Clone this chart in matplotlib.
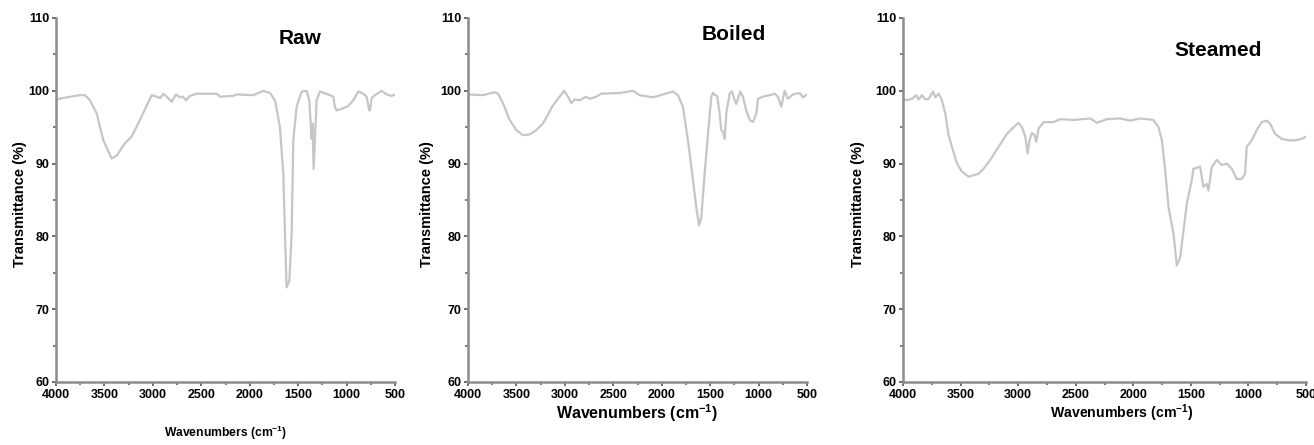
import matplotlib
matplotlib.use("Agg")
import matplotlib.pyplot as plt
from matplotlib.ticker import MultipleLocator

plt.rcParams['font.family'] = ['Liberation Sans', 'DejaVu Sans']
plt.rcParams['mathtext.fontset'] = 'custom'
plt.rcParams['mathtext.rm'] = 'Liberation Sans:bold'
plt.rcParams['mathtext.it'] = 'Liberation Sans:bold'
plt.rcParams['mathtext.bf'] = 'Liberation Sans:bold'
plt.rcParams['mathtext.default'] = 'rm'

# ---- data ----
raw_w = [4000, 3890, 3752, 3700, 3649, 3580, 3511, 3425, 3374, 3288, 3219, 3133, 3012, 2961,
         2926, 2892, 2858, 2806, 2761, 2720, 2690, 2658, 2617, 2548, 2341, 2307, 2169, 2140,
         1963, 1860, 1791, 1739, 1688, 1653, 1636, 1619, 1591, 1567, 1550, 1516, 1464, 1412,
         1385, 1361, 1352, 1340, 1309, 1275, 1171, 1137, 1120, 1103, 1034, 983, 931, 879, 827,
         793, 765, 759, 741, 707, 638, 586, 535, 500]
raw_t = [98.8, 99.1, 99.4, 99.4, 98.7, 96.9, 93.2, 90.7, 91.1, 92.8, 93.7, 96.0, 99.4, 99.2,
         99.0, 99.6, 99.2, 98.5, 99.5, 99.1, 99.2, 98.7, 99.3, 99.6, 99.6, 99.2, 99.3, 99.5,
         99.4, 100.0, 99.7, 98.7, 95.0, 88.6, 80.4, 73.0, 73.9, 80.4, 93.2, 97.8, 99.9, 100.0,
         98.7, 93.4, 95.5, 89.3, 98.7, 99.9, 99.4, 99.2, 97.8, 97.3, 97.6, 97.9, 98.7, 99.9, 99.6,
         99.2, 97.3, 97.3, 99.0, 99.4, 100.0, 99.5, 99.3, 99.5]

boiled_w = [4000, 3845, 3725, 3690, 3639, 3570, 3501, 3432, 3363, 3295, 3226, 3123, 3054, 3009,
            2968, 2933, 2899, 2847, 2778, 2744, 2675, 2624, 2434, 2297, 2228, 2090, 1987, 1884,
            1832, 1781, 1729, 1677, 1643, 1615, 1591, 1557, 1522, 1488, 1471, 1426, 1402, 1385,
            1367, 1350, 1333, 1299, 1275, 1247, 1230, 1189, 1161, 1127, 1092, 1058, 1023, 1006,
            955, 886, 834, 800, 765, 731, 697, 645, 576, 541, 500]
boiled_t = [99.5, 99.4, 99.8, 99.6, 98.3, 96.0, 94.6, 93.9, 94.0, 94.6, 95.5, 98.0, 99.2, 100.0,
            99.2, 98.3, 98.8, 98.7, 99.2, 98.9, 99.2, 99.6, 99.7, 100.0, 99.4, 99.1, 99.5, 99.9,
            99.4, 97.8, 93.2, 87.7, 84.0, 81.5, 82.7, 88.6, 94.1, 99.2, 99.7, 99.2, 96.9, 94.6,
            94.4, 93.4, 96.9, 99.6, 99.9, 98.7, 98.2, 99.9, 99.2, 97.3, 96.0, 95.7, 96.9, 98.9,
            99.2, 99.4, 99.6, 99.2, 97.8, 100.0, 98.9, 99.5, 99.7, 99.1, 99.5]

steamed_w = [4000, 3965, 3922, 3884, 3864, 3835, 3806, 3777, 3740, 3719, 3690, 3662, 3633, 3604,
             3575, 3531, 3488, 3430, 3387, 3343, 3300, 3242, 3170, 3097, 3040, 2996, 2967, 2938,
             2918, 2901, 2881, 2857, 2843, 2823, 2779, 2693, 2635, 2519, 2374, 2316, 2230, 2114,
             2027, 1940, 1825, 1781, 1752, 1723, 1694, 1651, 1622, 1593, 1564, 1535, 1492, 1478,
             1434, 1420, 1391, 1362, 1347, 1319, 1275, 1232, 1188, 1145, 1102, 1058, 1029, 1015,
             971, 928, 884, 841, 812, 769, 711, 653, 595, 538, 500]
steamed_t = [98.9, 98.7, 98.9, 99.4, 98.8, 99.4, 98.8, 98.9, 99.9, 99.1, 99.6, 98.7, 96.9, 93.9,
             92.3, 90.0, 88.9, 88.2, 88.4, 88.6, 89.3, 90.5, 92.3, 94.1, 95.0, 95.6, 95.0, 93.7,
             91.4, 93.2, 94.2, 93.9, 93.0, 94.8, 95.7, 95.7, 96.1, 96.0, 96.2, 95.6, 96.1, 96.2,
             95.9, 96.2, 96.0, 95.0, 93.2, 89.1, 84.0, 80.4, 76.0, 77.1, 80.8, 84.5, 87.7, 89.3,
             89.5, 89.6, 86.8, 87.2, 86.3, 89.5, 90.5, 89.8, 90.0, 89.3, 87.9, 87.9, 88.6, 92.3,
             93.2, 94.6, 95.7, 95.9, 95.5, 94.1, 93.4, 93.2, 93.2, 93.4, 93.7]

titles = ["Raw", "Boiled", "Steamed"]
x_ticks = [4000, 3500, 3000, 2500, 2000, 1500, 1000, 500]
y_ticks = [60, 70, 80, 90, 100, 110]

series = [(raw_w, raw_t), (boiled_w, boiled_t), (steamed_w, steamed_t)]

W, H = 1314, 445
fig = plt.figure(figsize=(W / 100, H / 100), dpi=100)

# axes boxes in pixels: left, right, top, bottom
boxes = [(56, 395, 18, 382), (468, 807, 18, 382), (903, 1306, 18, 382)]
title_pos = [(300, 38), (734, 34), (1218, 51)]
ylabel_x = [20, 427, 858]
xlabel_y = [433, 413, 413]
xlabel_x = [226, 637, 1122]
xlabel_fs = [8.7, 11.5, 10.2]

spine_col = '#8c8c8c'
line_col = '#c6c6c6'

for i, ((w, t), (l, r, tp, b)) in enumerate(zip(series, boxes)):
    ax = fig.add_axes([l / W, (H - b) / H, (r - l) / W, (b - tp) / H])
    ax.plot(w, t, color=line_col, lw=1.6, solid_joinstyle='round')
    ax.set_xlim(4000, 500)
    ax.set_ylim(60, 110)
    ax.set_xticks(x_ticks)
    ax.set_yticks(y_ticks)
    ax.xaxis.set_minor_locator(MultipleLocator(250))
    ax.yaxis.set_minor_locator(MultipleLocator(5))
    for s in ['top', 'right']:
        ax.spines[s].set_visible(False)
    for s in ['left', 'bottom']:
        ax.spines[s].set_color(spine_col)
        ax.spines[s].set_linewidth(1.8)
    ax.tick_params(axis='both', which='major', direction='out', length=3, width=1.2,
                   color='#555555', labelsize=9, pad=2)
    ax.tick_params(axis='both', which='minor', direction='out', length=2.5, width=1.2,
                   color='#666666')
    for lab in ax.get_xticklabels() + ax.get_yticklabels():
        lab.set_fontweight('bold')
    fig.text(title_pos[i][0] / W, 1 - title_pos[i][1] / H, titles[i], fontsize=15,
             fontweight='bold', ha='center', va='center')
    fig.text(ylabel_x[i] / W, 1 - ((tp + b) / 2 + 4) / H, 'Transmittance (%)', rotation=90,
             fontsize=10.5, fontweight='bold', ha='center', va='center')
    fig.text(xlabel_x[i] / W, 1 - xlabel_y[i] / H,
             r'Wavenumbers (cm$^{-1}$)', fontsize=xlabel_fs[i], fontweight='bold',
             ha='center', va='center')

fig.savefig('out.png', dpi=100)
